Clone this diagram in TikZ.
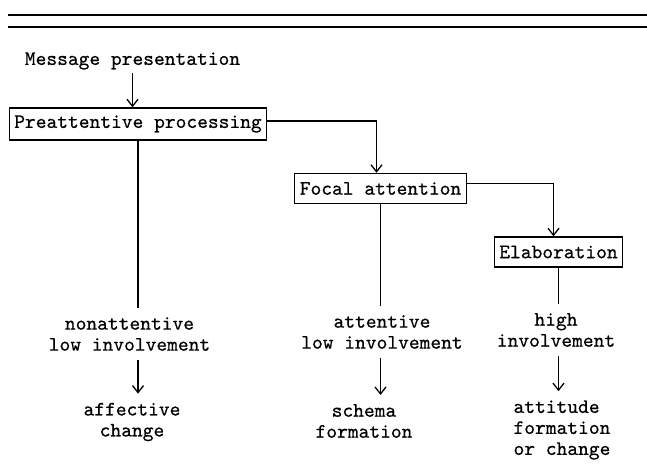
\documentclass[tikz,border=0pt]{standalone}
\usepackage{fontspec}
\setmonofont{lmmono10-regular.otf}[FakeBold=0.5]
\usetikzlibrary{arrows.meta}

\tikzset{
  stage/.style={draw, line width=1.4pt, inner xsep=5pt, minimum height=30pt},
  result/.style={align=center, inner ysep=9pt},
  wire/.style={line width=1.3pt},
  flow/.style={wire, -{Straight Barb[length=7pt,width=11pt]}},
}

\begin{document}
\begin{tikzpicture}[x=1pt, y=-1pt, font=\ttfamily\fontsize{20.5}{21}\selectfont]
  \useasboundingbox (0,0) rectangle (647,467);

  % double rule at the top
  \draw[line width=1.2pt] (8,15) -- (647,15);
  \draw[line width=1.2pt] (8,27) -- (647,27);

  \node (msg) at (132.5,61) {Message presentation};

  \node[stage, minimum height=32pt] (pre) at (138,124) {Preattentive processing};
  \node[stage] (foc) at (380.5,188.5) {Focal attention};
  \node[stage] (elab) at (558.5,252) {Elaboration};

  \node[result] (non) at (129.5,334) {nonattentive\\low involvement};
  \node[result] (att) at (382,332) {attentive\\low involvement};
  \node[result] (hi) at (556,330) {high\\involvement};

  \node[result] (aff) at (132,422) {affective\\change};
  \node[result] (sch) at (364,421) {schema\\formation};
  \node[result, align=left, anchor=west] (atf) at (510,430) {attitude\\formation\\or change};

  \draw[flow] (msg.south) -- (msg.south |- pre.north);
  \draw[flow] ([yshift=3pt]pre.east) -| ([xshift=-4pt]foc.north);
  \draw[flow] ([yshift=5pt]foc.east) -| ([xshift=-5pt]elab.north);

  \draw[wire] (pre.south) -- (pre.south |- non.north);
  \draw[wire] (foc.south) -- (foc.south |- att.north);
  \draw[wire] (elab.south) -- (elab.south |- hi.north);

  \draw[flow] (non.south -| pre.south) -- (aff.north -| pre.south);
  \draw[flow] (att.south -| foc.south) -- (sch.north -| foc.south);
  \draw[flow] (hi.south -| elab.south) -- (atf.north -| elab.south);
\end{tikzpicture}
\end{document}
